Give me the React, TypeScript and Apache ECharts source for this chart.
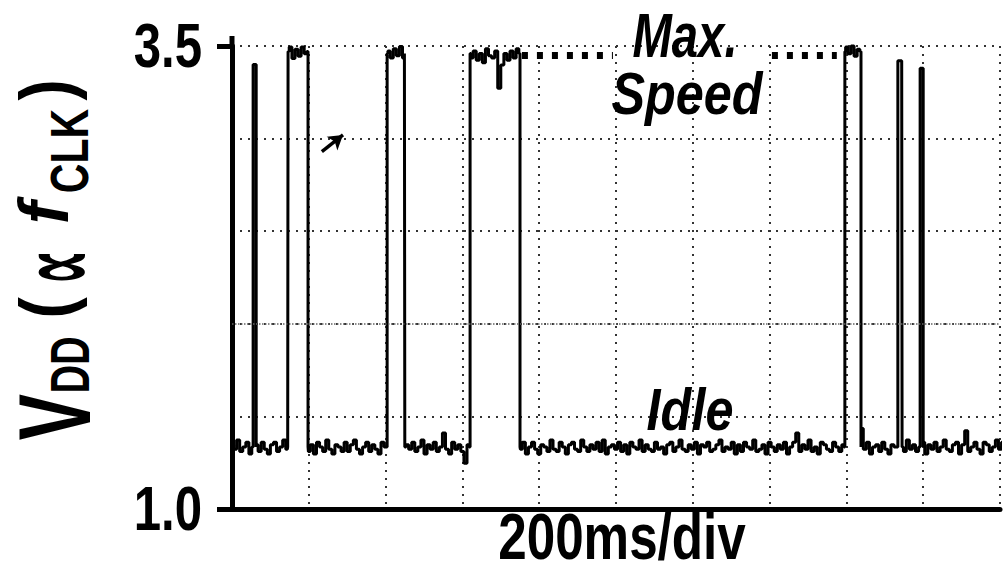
import React, { useEffect, useRef } from "react";
import * as echarts from "echarts";

// ---- data ----
const timeStartMs = -16;
const timeStepMs = 8;
const idleLevel = 1.335;
const pulseRiseMs = [55, 146, 404, 620, 1596, 1734, 1792];
const pulseFallMs = [63, 198, 450, 750, 1638, 1745, 1800];
const pulseTopV = [3.4, 3.47, 3.46, 3.46, 3.47, 3.42, 3.38];
// hand-read trace wiggle, in 12.5 mV steps (one screen pixel ~ 5 mV), one per 8 ms sample
const noiseSteps = [
  2, -3, 1, -1, 3, -2, 0, 2, -3, 0, 1, -2, 2, -1, -3, 1, 2, -2, 0, 3,
  -1, 2, -3, 1, -2, 2, -1, -2, 1, -3, 2, 0, -2, 3, -1, -3, 1, 0, -2, 2,
  -2, 1, 3, -1, -3, 0, 2, -2, 1, -1, -3, 2, 0, 1, -2, 2, -1, 3, -2, 1,
  -1, 2, -2, 0, 3, -3, 1, -1, 2, -2, 0, 6, -1, -3, 2, -1, 1, -2, -7, 1,
  -2, 1, -3, 0, -4, 2, -1, -2, 1, -15, -5, 0, -3, 1, -2, 2, -1, 2, -3, 0,
  2, -1, -3, 1, 0, -2, 3, -1, -2, 2, 0, -3, 1, 2, -1, -2, 3, 0, -2, 1,
  -1, 2, -2, 3, -3, 0, 1, -1, 2, -2, 1, -3, 2, 0, -1, 3, -2, 1, -1, -2,
  2, -1, 0, -3, 1, 2, -2, 0, 3, -1, -2, 1, -1, 2, -3, 1, 0, 2, -2, -1,
  1, 3, -2, 0, -1, 2, -3, 1, -2, 2, 0, -1, 3, -2, -1, 1, -3, 2, 0, -2,
  1, -1, 2, -3, 0, 2, 6, -2, 1, -1, 3, -2, 0, -3, 2, 1, -1, -2, 2, 0,
  -2, 1, 2, -1, 3, -2, 1, 8, -1, 2, -3, 0, 1, -2, 2, -1, -3, 1, 0, 0,
  0, -2, 3, -1, 1, -2, 0, 2, -3, 1, -1, 2, -2, 0, 3, -1, -2, 1, 2, -3,
  1, 7, -2, 0, 2, -1, -3, 2, 1, -2, 0, 3, -1, 2,
];
const noiseStepV = 0.0125;
const yTickValues = [1.0, 3.5];
const yTickLabels = ["1.0", "3.5"];
const maxSpeedDashes = [
  [755, 992],
  [1406, 1575],
];
const maxSpeedLevel = 3.45;
const arrowFrom = [234, 2.93];
const arrowTo = [289, 3.02];
const centerLineV = 2.0;

const SANS = "'Liberation Sans Narrow', 'Arial Narrow', 'Liberation Sans', Arial, sans-serif";

function buildTrace(): [number, number][] {
  const events: { t: number; pts: number[] }[] = [];
  pulseRiseMs.forEach((r, k) => {
    events.push({ t: r, pts: [idleLevel, pulseTopV[k]] });
    events.push({ t: pulseFallMs[k], pts: [pulseTopV[k], idleLevel] });
  });
  events.sort((a, b) => a.t - b.t);
  const out: [number, number][] = [];
  let e = 0;
  noiseSteps.forEach((n, i) => {
    const t = timeStartMs + timeStepMs * i;
    while (e < events.length && events[e].t <= t) {
      events[e].pts.forEach((v) => out.push([events[e].t, v]));
      e++;
    }
    let level = idleLevel;
    pulseRiseMs.forEach((r, k) => {
      if (t >= r && t < pulseFallMs[k]) level = pulseTopV[k];
    });
    out.push([t, +Math.min(3.5, level + n * noiseStepV).toFixed(4)]);
  });
  return out;
}

function txt(
  text: string,
  x: number,
  y: number,
  size: number,
  opts: { italic?: boolean; family?: string; sx?: number; rot?: boolean; align?: string } = {}
) {
  return {
    type: "text",
    x,
    y,
    rotation: opts.rot ? Math.PI / 2 : 0,
    scaleX: opts.sx ?? 1,
    silent: true,
    z: 10,
    style: {
      text,
      fontSize: size,
      fontWeight: "bold",
      fontStyle: opts.italic ? "italic" : "normal",
      fontFamily: opts.family ?? SANS,
      fill: "#000",
      align: opts.align ?? "center",
      verticalAlign: "middle",
    },
  };
}

export default function App() {
  const ref = useRef<HTMLDivElement>(null);
  useEffect(() => {
    if (!ref.current) return;
    const chart = echarts.init(ref.current, undefined, { renderer: "svg" });
    const dotted = { color: "#333", width: 2, type: [2, 6] as number[] };
    const markData: any[] = [
      { yAxis: centerLineV, lineStyle: { color: "#666", width: 1.5, type: [1.5, 1.5] } },
    ];
    maxSpeedDashes.forEach(([a, b]) => {
      markData.push([
        { coord: [a, maxSpeedLevel], lineStyle: { color: "#000", width: 7, type: [6, 9] } },
        { coord: [b, maxSpeedLevel] },
      ]);
    });
    markData.push([
      { coord: arrowFrom, symbol: "none", lineStyle: { color: "#000", width: 3.5, type: "solid" } },
      { coord: arrowTo, symbol: "arrow", symbolSize: [13, 14] },
    ]);
    const graphicBase: any[] = [
      { type: "line", silent: true, shape: { x1: 232, y1: 36, x2: 232, y2: 47 }, style: { stroke: "#000", lineWidth: 5 } },
      txt("Max.", 685, 36, 63, { italic: true, sx: 0.75 }),
      txt("Speed", 687, 93, 60, { italic: true, sx: 0.84 }),
      txt("Idle", 690, 409, 60, { italic: true, sx: 0.84 }),
      txt("200ms/div", 622, 537, 64, { sx: 0.8 }),
      txt("V", 54, 417, 102, { rot: true, sx: 0.68 }),
      txt("DD", 70, 365, 55, { rot: true, sx: 0.72 }),
      txt("(", 46, 308, 75, { rot: true, sx: 0.85 }),
      txt("\u221D", 56, 267, 112, { rot: true, sx: 0.45, family: "'DejaVu Sans', sans-serif" }),
      txt("f", 43, 213, 71, { rot: true, italic: true, sx: 0.95 }),
      txt("CLK", 69, 151, 54, { rot: true, sx: 0.76 }),
      txt(")", 46, 90, 75, { rot: true, sx: 0.85 }),
    ];
    const option: any = {
      animation: false,
      backgroundColor: "#fff",
      grid: { left: 232, right: 5, top: 46, bottom: 54, containLabel: false },
      xAxis: {
        type: "value",
        min: 0,
        max: 2000,
        interval: 200,
        axisLine: { show: true, onZero: false, lineStyle: { color: "#000", width: 5 } },
        axisTick: { show: false },
        axisLabel: { show: false },
        splitLine: { show: true, lineStyle: dotted },
      },
      yAxis: [
        {
          type: "value",
          position: "left",
          min: 1,
          max: 3.5,
          interval: 0.5,
          axisLine: { show: false },
          axisTick: { show: false },
          axisLabel: { show: false },
          splitLine: { show: true, lineStyle: dotted },
        },
        {
          type: "value",
          position: "left",
          min: yTickValues[0],
          max: yTickValues[1],
          interval: yTickValues[1] - yTickValues[0],
          axisLine: { show: true, lineStyle: { color: "#000", width: 5 } },
          axisTick: { show: true, length: 15, lineStyle: { color: "#000", width: 5 } },
          axisLabel: { show: false },
          splitLine: { show: false },
        },
      ],
      series: [
        {
          type: "line",
          yAxisIndex: 0,
          data: buildTrace(),
          showSymbol: false,
          symbol: "none",
          step: "middle",
          clip: false,
          silent: true,
          z: 3,
          lineStyle: { color: "#000", width: 3 },
          markLine: {
            silent: true,
            symbol: ["none", "none"],
            label: { show: false },
            data: markData,
          },
        },
      ],
      graphic: graphicBase,
    };
    chart.setOption(option);
    // tick labels placed on the axis scale, drawn condensed
    const tickTexts = yTickValues.map((v, i) => {
      const py = chart.convertToPixel({ yAxisIndex: 1 }, v) as number;
      return txt(yTickLabels[i], 202, py - 1, 63, { sx: 0.78, align: "right" });
    });
    chart.setOption({ graphic: [...graphicBase, ...tickTexts] });
    return () => chart.dispose();
  }, []);
  return (
    <div
      ref={ref}
      style={{ position: "fixed", left: 0, top: 0, width: 1005, height: 563, background: "#fff" }}
    />
  );
}
